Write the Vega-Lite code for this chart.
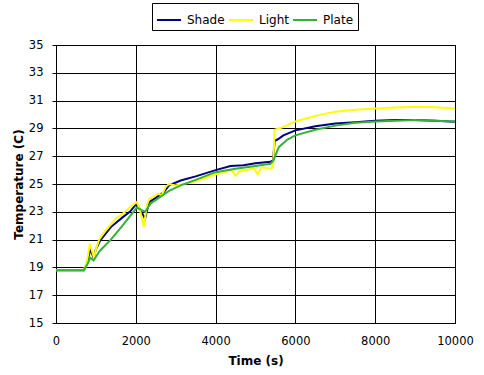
{
  "$schema": "https://vega.github.io/schema/vega-lite/v6.json",
  "width": 399,
  "height": 278,
  "autosize": {"type": "none"},
  "padding": {"left": 56, "top": 45, "right": 29, "bottom": 52},
  "background": "white",
  "config": {
    "font": "DejaVu Sans",
    "view": {"stroke": "black", "strokeWidth": 1},
    "axis": {"labelFont": "DejaVu Sans", "titleFont": "DejaVu Sans", "labelFontSize": 11.5, "titleFontSize": 12, "labelColor": "black", "titleColor": "black", "domainColor": "black", "tickColor": "black", "gridColor": "black", "gridOpacity": 1, "gridWidth": 1, "titleFontWeight": "bold"}
  },
  "data": {"values": [
    {"t": 0, "v": 18.8, "s": "Shade"}, {"t": 700, "v": 18.8, "s": "Shade"}, {"t": 780, "v": 19.3, "s": "Shade"}, {"t": 858, "v": 20.3, "s": "Shade"}, {"t": 942, "v": 19.7, "s": "Shade"}, {"t": 1000, "v": 20.3, "s": "Shade"}, {"t": 1100, "v": 20.9, "s": "Shade"}, {"t": 1375, "v": 21.9, "s": "Shade"}, {"t": 1667, "v": 22.6, "s": "Shade"}, {"t": 1850, "v": 23.0, "s": "Shade"}, {"t": 2025, "v": 23.6, "s": "Shade"}, {"t": 2100, "v": 23.2, "s": "Shade"}, {"t": 2233, "v": 22.5, "s": "Shade"}, {"t": 2333, "v": 23.7, "s": "Shade"}, {"t": 2500, "v": 24.0, "s": "Shade"}, {"t": 2700, "v": 24.4, "s": "Shade"}, {"t": 2833, "v": 24.9, "s": "Shade"}, {"t": 3125, "v": 25.25, "s": "Shade"}, {"t": 3500, "v": 25.55, "s": "Shade"}, {"t": 4000, "v": 26.0, "s": "Shade"}, {"t": 4375, "v": 26.3, "s": "Shade"}, {"t": 4700, "v": 26.35, "s": "Shade"}, {"t": 5000, "v": 26.5, "s": "Shade"}, {"t": 5375, "v": 26.6, "s": "Shade"}, {"t": 5440, "v": 26.7, "s": "Shade"}, {"t": 5480, "v": 28.1, "s": "Shade"}, {"t": 5550, "v": 28.2, "s": "Shade"}, {"t": 5700, "v": 28.5, "s": "Shade"}, {"t": 6000, "v": 28.86, "s": "Shade"}, {"t": 6500, "v": 29.15, "s": "Shade"}, {"t": 7000, "v": 29.35, "s": "Shade"}, {"t": 7500, "v": 29.45, "s": "Shade"}, {"t": 8000, "v": 29.55, "s": "Shade"}, {"t": 8500, "v": 29.6, "s": "Shade"}, {"t": 9000, "v": 29.6, "s": "Shade"}, {"t": 9500, "v": 29.55, "s": "Shade"}, {"t": 10000, "v": 29.47, "s": "Shade"},
    {"t": 0, "v": 18.8, "s": "Light"}, {"t": 700, "v": 18.8, "s": "Light"}, {"t": 780, "v": 19.5, "s": "Light"}, {"t": 850, "v": 20.7, "s": "Light"}, {"t": 900, "v": 20.2, "s": "Light"}, {"t": 950, "v": 19.7, "s": "Light"}, {"t": 1000, "v": 20.3, "s": "Light"}, {"t": 1080, "v": 21.0, "s": "Light"}, {"t": 1200, "v": 21.5, "s": "Light"}, {"t": 1375, "v": 22.1, "s": "Light"}, {"t": 1500, "v": 22.5, "s": "Light"}, {"t": 1667, "v": 22.85, "s": "Light"}, {"t": 1800, "v": 23.2, "s": "Light"}, {"t": 2025, "v": 23.7, "s": "Light"}, {"t": 2100, "v": 23.2, "s": "Light"}, {"t": 2200, "v": 21.9, "s": "Light"}, {"t": 2280, "v": 23.5, "s": "Light"}, {"t": 2333, "v": 23.9, "s": "Light"}, {"t": 2450, "v": 24.1, "s": "Light"}, {"t": 2550, "v": 24.3, "s": "Light"}, {"t": 2650, "v": 24.2, "s": "Light"}, {"t": 2750, "v": 24.8, "s": "Light"}, {"t": 2833, "v": 25.0, "s": "Light"}, {"t": 3000, "v": 24.9, "s": "Light"}, {"t": 3375, "v": 25.1, "s": "Light"}, {"t": 3700, "v": 25.4, "s": "Light"}, {"t": 4000, "v": 25.7, "s": "Light"}, {"t": 4200, "v": 25.8, "s": "Light"}, {"t": 4400, "v": 26.0, "s": "Light"}, {"t": 4500, "v": 25.6, "s": "Light"}, {"t": 4600, "v": 25.9, "s": "Light"}, {"t": 4800, "v": 26.0, "s": "Light"}, {"t": 4950, "v": 26.2, "s": "Light"}, {"t": 5050, "v": 25.7, "s": "Light"}, {"t": 5150, "v": 26.2, "s": "Light"}, {"t": 5375, "v": 26.1, "s": "Light"}, {"t": 5440, "v": 26.2, "s": "Light"}, {"t": 5480, "v": 28.9, "s": "Light"}, {"t": 5700, "v": 29.1, "s": "Light"}, {"t": 6000, "v": 29.5, "s": "Light"}, {"t": 6500, "v": 29.9, "s": "Light"}, {"t": 7000, "v": 30.2, "s": "Light"}, {"t": 7500, "v": 30.35, "s": "Light"}, {"t": 8000, "v": 30.43, "s": "Light"}, {"t": 8500, "v": 30.5, "s": "Light"}, {"t": 9000, "v": 30.55, "s": "Light"}, {"t": 9500, "v": 30.52, "s": "Light"}, {"t": 10000, "v": 30.43, "s": "Light"},
    {"t": 0, "v": 18.8, "s": "Plate"}, {"t": 700, "v": 18.8, "s": "Plate"}, {"t": 800, "v": 19.3, "s": "Plate"}, {"t": 858, "v": 19.7, "s": "Plate"}, {"t": 942, "v": 19.5, "s": "Plate"}, {"t": 1100, "v": 20.2, "s": "Plate"}, {"t": 1375, "v": 21.0, "s": "Plate"}, {"t": 1667, "v": 22.0, "s": "Plate"}, {"t": 2025, "v": 23.3, "s": "Plate"}, {"t": 2233, "v": 23.0, "s": "Plate"}, {"t": 2375, "v": 23.6, "s": "Plate"}, {"t": 2833, "v": 24.5, "s": "Plate"}, {"t": 3125, "v": 24.9, "s": "Plate"}, {"t": 3500, "v": 25.3, "s": "Plate"}, {"t": 4000, "v": 25.85, "s": "Plate"}, {"t": 4500, "v": 26.1, "s": "Plate"}, {"t": 5000, "v": 26.3, "s": "Plate"}, {"t": 5375, "v": 26.45, "s": "Plate"}, {"t": 5450, "v": 26.7, "s": "Plate"}, {"t": 5583, "v": 27.65, "s": "Plate"}, {"t": 5800, "v": 28.2, "s": "Plate"}, {"t": 6000, "v": 28.5, "s": "Plate"}, {"t": 6500, "v": 28.9, "s": "Plate"}, {"t": 7000, "v": 29.2, "s": "Plate"}, {"t": 7500, "v": 29.4, "s": "Plate"}, {"t": 8000, "v": 29.5, "s": "Plate"}, {"t": 8500, "v": 29.55, "s": "Plate"}, {"t": 9000, "v": 29.6, "s": "Plate"}, {"t": 9500, "v": 29.55, "s": "Plate"}, {"t": 10000, "v": 29.5, "s": "Plate"}
  ]},
  "mark": {"type": "line", "strokeWidth": 2},
  "encoding": {
    "x": {"field": "t", "type": "quantitative", "title": "Time (s)", "scale": {"domain": [0, 10000], "nice": false}, "axis": {"values": [0, 2000, 4000, 6000, 8000, 10000], "format": "d", "ticks": false, "labelPadding": 12, "labelFlush": false, "titlePadding": 9}},
    "y": {"field": "v", "type": "quantitative", "title": "Temperature (C)", "scale": {"domain": [15, 35], "nice": false, "zero": false}, "axis": {"values": [15, 17, 19, 21, 23, 25, 27, 29, 31, 33, 35], "tickSize": 4, "labelPadding": 9, "labelFlush": false, "titlePadding": 3}},
    "color": {"field": "s", "type": "nominal", "title": null, "sort": ["Shade", "Light", "Plate"], "scale": {"domain": ["Shade", "Light", "Plate"], "range": ["#000080", "#ffff00", "#33b233"]}, "legend": {"orient": "none", "legendX": 96, "legendY": -42, "direction": "horizontal", "gridAlign": "none", "symbolType": "stroke", "symbolStrokeWidth": 2, "symbolSize": 576, "strokeColor": "black", "padding": 4, "labelFontSize": 12, "labelFont": "DejaVu Sans", "labelColor": "black", "labelOffset": 5, "columnPadding": 0}},
    "order": {"field": "t", "type": "quantitative"}
  }
}
